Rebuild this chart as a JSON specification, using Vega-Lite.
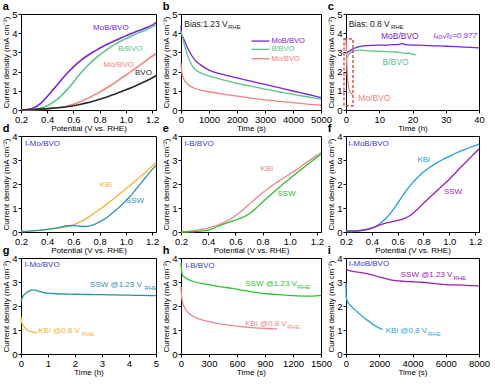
{
"$schema": "https://vega.github.io/schema/vega-lite/v6.json",
"padding": {"left": 2, "top": 0, "right": 2, "bottom": 2},
"bounds": "flush",
"align": "each",
"columns": 3,
"spacing": {"row": 26, "column": 25},
"resolve": {"scale": {"color": "independent", "x": "independent", "y": "independent"}},
"config": {
  "font": "Liberation Sans",
  "view": {"stroke": "black", "strokeWidth": 1},
  "axis": {"grid": false, "domainColor": "black", "tickColor": "black", "labelColor": "black", "titleColor": "black", "labelFont": "Liberation Sans", "titleFont": "Liberation Sans", "labelFontSize": 9.5, "titleFontSize": 8, "titleFontWeight": "normal", "tickSize": 3, "labelPadding": 1, "titlePadding": 1, "labelFlush": false, "labelOverlap": false, "labelBound": false},
  "title": {"anchor": "start", "frame": "bounds", "fontSize": 11, "fontWeight": "bold", "font": "Liberation Sans", "offset": -3, "color": "black"},
  "text": {"font": "Liberation Sans"},
  "line": {"strokeWidth": 1.3, "interpolate": "monotone"}
},
"datasets": {
  "a_l": [
    {"s":"MoB/BVO","x":0.2,"y":0},{"s":"MoB/BVO","x":0.25,"y":0.02},{"s":"MoB/BVO","x":0.3,"y":0.12},{"s":"MoB/BVO","x":0.35,"y":0.35},{"s":"MoB/BVO","x":0.4,"y":0.7},{"s":"MoB/BVO","x":0.45,"y":1.1},{"s":"MoB/BVO","x":0.5,"y":1.5},{"s":"MoB/BVO","x":0.55,"y":1.9},{"s":"MoB/BVO","x":0.6,"y":2.25},{"s":"MoB/BVO","x":0.65,"y":2.55},{"s":"MoB/BVO","x":0.7,"y":2.8},{"s":"MoB/BVO","x":0.75,"y":3.02},{"s":"MoB/BVO","x":0.8,"y":3.22},{"s":"MoB/BVO","x":0.85,"y":3.4},{"s":"MoB/BVO","x":0.9,"y":3.56},{"s":"MoB/BVO","x":0.95,"y":3.71},{"s":"MoB/BVO","x":1.0,"y":3.86},{"s":"MoB/BVO","x":1.05,"y":4.0},{"s":"MoB/BVO","x":1.1,"y":4.14},{"s":"MoB/BVO","x":1.15,"y":4.27},{"s":"MoB/BVO","x":1.2,"y":4.42},{"s":"MoB/BVO","x":1.23,"y":4.55},
    {"s":"B/BVO","x":0.2,"y":0},{"s":"B/BVO","x":0.25,"y":0.01},{"s":"B/BVO","x":0.3,"y":0.03},{"s":"B/BVO","x":0.35,"y":0.1},{"s":"B/BVO","x":0.4,"y":0.22},{"s":"B/BVO","x":0.45,"y":0.42},{"s":"B/BVO","x":0.5,"y":0.7},{"s":"B/BVO","x":0.55,"y":1.05},{"s":"B/BVO","x":0.6,"y":1.45},{"s":"B/BVO","x":0.65,"y":1.88},{"s":"B/BVO","x":0.7,"y":2.25},{"s":"B/BVO","x":0.75,"y":2.58},{"s":"B/BVO","x":0.8,"y":2.87},{"s":"B/BVO","x":0.85,"y":3.12},{"s":"B/BVO","x":0.9,"y":3.35},{"s":"B/BVO","x":0.95,"y":3.55},{"s":"B/BVO","x":1.0,"y":3.72},{"s":"B/BVO","x":1.05,"y":3.88},{"s":"B/BVO","x":1.1,"y":4.03},{"s":"B/BVO","x":1.15,"y":4.17},{"s":"B/BVO","x":1.2,"y":4.33},{"s":"B/BVO","x":1.23,"y":4.42},
    {"s":"Mo/BVO","x":0.2,"y":0},{"s":"Mo/BVO","x":0.3,"y":0.02},{"s":"Mo/BVO","x":0.4,"y":0.06},{"s":"Mo/BVO","x":0.5,"y":0.13},{"s":"Mo/BVO","x":0.55,"y":0.2},{"s":"Mo/BVO","x":0.6,"y":0.3},{"s":"Mo/BVO","x":0.65,"y":0.43},{"s":"Mo/BVO","x":0.7,"y":0.58},{"s":"Mo/BVO","x":0.75,"y":0.75},{"s":"Mo/BVO","x":0.8,"y":0.93},{"s":"Mo/BVO","x":0.85,"y":1.13},{"s":"Mo/BVO","x":0.9,"y":1.35},{"s":"Mo/BVO","x":0.95,"y":1.58},{"s":"Mo/BVO","x":1.0,"y":1.82},{"s":"Mo/BVO","x":1.05,"y":2.05},{"s":"Mo/BVO","x":1.1,"y":2.3},{"s":"Mo/BVO","x":1.15,"y":2.55},{"s":"Mo/BVO","x":1.2,"y":2.8},{"s":"Mo/BVO","x":1.23,"y":2.93},
    {"s":"BVO","x":0.2,"y":0},{"s":"BVO","x":0.3,"y":0.03},{"s":"BVO","x":0.4,"y":0.07},{"s":"BVO","x":0.5,"y":0.13},{"s":"BVO","x":0.6,"y":0.22},{"s":"BVO","x":0.65,"y":0.29},{"s":"BVO","x":0.7,"y":0.37},{"s":"BVO","x":0.75,"y":0.46},{"s":"BVO","x":0.8,"y":0.56},{"s":"BVO","x":0.85,"y":0.67},{"s":"BVO","x":0.9,"y":0.79},{"s":"BVO","x":0.95,"y":0.92},{"s":"BVO","x":1.0,"y":1.05},{"s":"BVO","x":1.05,"y":1.19},{"s":"BVO","x":1.1,"y":1.34},{"s":"BVO","x":1.15,"y":1.5},{"s":"BVO","x":1.2,"y":1.67},{"s":"BVO","x":1.23,"y":1.78}
  ],
  "a_t": [
    {"s":"MoB/BVO","t":"MoB/BVO","x":0.75,"y":4.28,"r":"m"},{"s":"B/BVO","t":"B/BVO","x":0.94,"y":3.19,"r":"m"},{"s":"Mo/BVO","t":"Mo/BVO","x":0.83,"y":2.33,"r":"m"},{"s":"BVO","t":"BVO","x":1.07,"y":1.93,"r":"m"}
  ],
  "b_l": [
    {"s":"MoB/BVO","x":0,"y":4.4},{"s":"MoB/BVO","x":10,"y":4.0},{"s":"MoB/BVO","x":50,"y":3.85},{"s":"MoB/BVO","x":100,"y":3.7},{"s":"MoB/BVO","x":200,"y":3.35},{"s":"MoB/BVO","x":300,"y":3.05},{"s":"MoB/BVO","x":400,"y":2.8},{"s":"MoB/BVO","x":500,"y":2.6},{"s":"MoB/BVO","x":700,"y":2.35},{"s":"MoB/BVO","x":1000,"y":2.08},{"s":"MoB/BVO","x":1500,"y":1.85},{"s":"MoB/BVO","x":2000,"y":1.67},{"s":"MoB/BVO","x":2500,"y":1.5},{"s":"MoB/BVO","x":3000,"y":1.33},{"s":"MoB/BVO","x":3500,"y":1.16},{"s":"MoB/BVO","x":4000,"y":0.99},{"s":"MoB/BVO","x":4500,"y":0.82},{"s":"MoB/BVO","x":5000,"y":0.65},
    {"s":"B/BVO","x":0,"y":4.1},{"s":"B/BVO","x":50,"y":3.8},{"s":"B/BVO","x":100,"y":3.5},{"s":"B/BVO","x":200,"y":3.0},{"s":"B/BVO","x":300,"y":2.6},{"s":"B/BVO","x":400,"y":2.3},{"s":"B/BVO","x":500,"y":2.12},{"s":"B/BVO","x":700,"y":1.93},{"s":"B/BVO","x":1000,"y":1.78},{"s":"B/BVO","x":1500,"y":1.57},{"s":"B/BVO","x":2000,"y":1.39},{"s":"B/BVO","x":2500,"y":1.24},{"s":"B/BVO","x":3000,"y":1.09},{"s":"B/BVO","x":3500,"y":0.95},{"s":"B/BVO","x":4000,"y":0.81},{"s":"B/BVO","x":4500,"y":0.69},{"s":"B/BVO","x":5000,"y":0.57},
    {"s":"Mo/BVO","x":0,"y":2.45},{"s":"Mo/BVO","x":20,"y":2.05},{"s":"Mo/BVO","x":50,"y":1.8},{"s":"Mo/BVO","x":100,"y":1.6},{"s":"Mo/BVO","x":200,"y":1.4},{"s":"Mo/BVO","x":300,"y":1.27},{"s":"Mo/BVO","x":500,"y":1.12},{"s":"Mo/BVO","x":700,"y":1.03},{"s":"Mo/BVO","x":1000,"y":0.95},{"s":"Mo/BVO","x":1500,"y":0.83},{"s":"Mo/BVO","x":2000,"y":0.72},{"s":"Mo/BVO","x":2500,"y":0.62},{"s":"Mo/BVO","x":3000,"y":0.53},{"s":"Mo/BVO","x":3500,"y":0.45},{"s":"Mo/BVO","x":4000,"y":0.38},{"s":"Mo/BVO","x":4500,"y":0.31},{"s":"Mo/BVO","x":5000,"y":0.26}
  ],
  "b_g": [
    {"s":"MoB/BVO","x":2520,"y":3.59},{"s":"MoB/BVO","x":3160,"y":3.59},{"s":"B/BVO","x":2520,"y":3.16},{"s":"B/BVO","x":3160,"y":3.16},{"s":"Mo/BVO","x":2520,"y":2.67},{"s":"Mo/BVO","x":3160,"y":2.67}
  ],
  "b_t": [
    {"s":"note","t":"Bias:1.23 V","x":117,"y":4.48,"r":"m"},{"s":"note","t":"RHE","x":1680,"y":4.48,"r":"sub"},
    {"s":"MoB/BVO","t":"MoB/BVO","x":3230,"y":3.59,"r":"g"},{"s":"B/BVO","t":"B/BVO","x":3230,"y":3.16,"r":"g"},{"s":"Mo/BVO","t":"Mo/BVO","x":3230,"y":2.67,"r":"g"}
  ],
  "c_l": [
    {"s":"MoB/BVO","x":0,"y":2.9},{"s":"MoB/BVO","x":0.5,"y":3.0},{"s":"MoB/BVO","x":1,"y":3.07},{"s":"MoB/BVO","x":2,"y":3.17},{"s":"MoB/BVO","x":3,"y":3.25},{"s":"MoB/BVO","x":4,"y":3.3},{"s":"MoB/BVO","x":6,"y":3.35},{"s":"MoB/BVO","x":8,"y":3.37},{"s":"MoB/BVO","x":10,"y":3.38},{"s":"MoB/BVO","x":12,"y":3.38},{"s":"MoB/BVO","x":14,"y":3.4},{"s":"MoB/BVO","x":16,"y":3.42},{"s":"MoB/BVO","x":17,"y":3.46},{"s":"MoB/BVO","x":18,"y":3.4},{"s":"MoB/BVO","x":20,"y":3.38},{"s":"MoB/BVO","x":22,"y":3.38},{"s":"MoB/BVO","x":25,"y":3.35},{"s":"MoB/BVO","x":28,"y":3.34},{"s":"MoB/BVO","x":30,"y":3.32},{"s":"MoB/BVO","x":33,"y":3.3},{"s":"MoB/BVO","x":36,"y":3.27},{"s":"MoB/BVO","x":40,"y":3.24},
    {"s":"B/BVO","x":0,"y":2.6},{"s":"B/BVO","x":0.5,"y":2.8},{"s":"B/BVO","x":1,"y":2.93},{"s":"B/BVO","x":2,"y":3.05},{"s":"B/BVO","x":3,"y":3.1},{"s":"B/BVO","x":4,"y":3.12},{"s":"B/BVO","x":5,"y":3.11},{"s":"B/BVO","x":7,"y":3.08},{"s":"B/BVO","x":9,"y":3.06},{"s":"B/BVO","x":11,"y":3.05},{"s":"B/BVO","x":13,"y":3.03},{"s":"B/BVO","x":15,"y":3.02},{"s":"B/BVO","x":17,"y":2.97},{"s":"B/BVO","x":18,"y":2.95},{"s":"B/BVO","x":19,"y":2.96},{"s":"B/BVO","x":20,"y":2.9},{"s":"B/BVO","x":21,"y":2.87},
    {"s":"Mo/BVO","x":0,"y":3.7},{"s":"Mo/BVO","x":0.1,"y":3.2},{"s":"Mo/BVO","x":0.2,"y":2.6},{"s":"Mo/BVO","x":0.35,"y":2.0},{"s":"Mo/BVO","x":0.5,"y":1.6},{"s":"Mo/BVO","x":0.75,"y":1.25},{"s":"Mo/BVO","x":1,"y":1.05},{"s":"Mo/BVO","x":1.3,"y":0.92},{"s":"Mo/BVO","x":1.6,"y":0.85},{"s":"Mo/BVO","x":2,"y":0.8}
  ],
  "c_box": [{"x":-0.6,"x2":2.1,"y":0.22,"y2":3.7}],
  "c_t": [
    {"s":"note","t":"Bias: 0.8 V","x":0.8,"y":4.48,"r":"m"},{"s":"note","t":"RHE","x":13.5,"y":4.48,"r":"sub"},
    {"s":"MoB/BVO","t":"MoB/BVO","x":10.5,"y":3.88,"r":"m"},{"s":"B/BVO","t":"B/BVO","x":11.0,"y":2.5,"r":"m"},{"s":"Mo/BVO","t":"Mo/BVO","x":3.7,"y":0.6,"r":"m"},
    {"s":"MoB/BVO","t":"i₄₀ₕ/i₀=0.977","x":26.3,"y":3.88,"r":"it"}
  ],
  "d_l": [
    {"s":"KBi","x":0.2,"y":0.02},{"s":"KBi","x":0.25,"y":0.03},{"s":"KBi","x":0.3,"y":0.05},{"s":"KBi","x":0.35,"y":0.07},{"s":"KBi","x":0.4,"y":0.1},{"s":"KBi","x":0.45,"y":0.13},{"s":"KBi","x":0.5,"y":0.17},{"s":"KBi","x":0.55,"y":0.22},{"s":"KBi","x":0.6,"y":0.3},{"s":"KBi","x":0.65,"y":0.42},{"s":"KBi","x":0.7,"y":0.57},{"s":"KBi","x":0.75,"y":0.75},{"s":"KBi","x":0.8,"y":0.94},{"s":"KBi","x":0.85,"y":1.14},{"s":"KBi","x":0.9,"y":1.35},{"s":"KBi","x":0.95,"y":1.57},{"s":"KBi","x":1.0,"y":1.8},{"s":"KBi","x":1.05,"y":2.02},{"s":"KBi","x":1.1,"y":2.25},{"s":"KBi","x":1.15,"y":2.48},{"s":"KBi","x":1.2,"y":2.75},{"s":"KBi","x":1.23,"y":2.9},
    {"s":"SSW","x":0.2,"y":0.02},{"s":"SSW","x":0.25,"y":0.03},{"s":"SSW","x":0.3,"y":0.06},{"s":"SSW","x":0.35,"y":0.08},{"s":"SSW","x":0.4,"y":0.11},{"s":"SSW","x":0.45,"y":0.15},{"s":"SSW","x":0.5,"y":0.2},{"s":"SSW","x":0.55,"y":0.26},{"s":"SSW","x":0.6,"y":0.27},{"s":"SSW","x":0.65,"y":0.24},{"s":"SSW","x":0.7,"y":0.23},{"s":"SSW","x":0.75,"y":0.3},{"s":"SSW","x":0.8,"y":0.42},{"s":"SSW","x":0.85,"y":0.58},{"s":"SSW","x":0.9,"y":0.8},{"s":"SSW","x":0.95,"y":1.03},{"s":"SSW","x":1.0,"y":1.3},{"s":"SSW","x":1.05,"y":1.6},{"s":"SSW","x":1.1,"y":1.93},{"s":"SSW","x":1.15,"y":2.27},{"s":"SSW","x":1.2,"y":2.6},{"s":"SSW","x":1.23,"y":2.78}
  ],
  "d_t": [
    {"s":"title","t":"I-Mo/BVO","x":0.23,"y":3.68,"r":"m"},{"s":"KBi","t":"KBi","x":0.8,"y":1.94,"r":"m"},{"s":"SSW","t":"SSW","x":1.0,"y":1.29,"r":"m"}
  ],
  "e_l": [
    {"s":"KBi","x":0.2,"y":0},{"s":"KBi","x":0.25,"y":0.02},{"s":"KBi","x":0.3,"y":0.06},{"s":"KBi","x":0.35,"y":0.11},{"s":"KBi","x":0.4,"y":0.17},{"s":"KBi","x":0.45,"y":0.25},{"s":"KBi","x":0.5,"y":0.36},{"s":"KBi","x":0.55,"y":0.5},{"s":"KBi","x":0.6,"y":0.68},{"s":"KBi","x":0.65,"y":0.9},{"s":"KBi","x":0.7,"y":1.15},{"s":"KBi","x":0.75,"y":1.4},{"s":"KBi","x":0.8,"y":1.64},{"s":"KBi","x":0.85,"y":1.85},{"s":"KBi","x":0.9,"y":2.05},{"s":"KBi","x":0.95,"y":2.23},{"s":"KBi","x":1.0,"y":2.42},{"s":"KBi","x":1.05,"y":2.6},{"s":"KBi","x":1.1,"y":2.8},{"s":"KBi","x":1.15,"y":3.0},{"s":"KBi","x":1.2,"y":3.2},{"s":"KBi","x":1.23,"y":3.3},
    {"s":"SSW","x":0.2,"y":0},{"s":"SSW","x":0.3,"y":0.02},{"s":"SSW","x":0.35,"y":0.04},{"s":"SSW","x":0.4,"y":0.08},{"s":"SSW","x":0.45,"y":0.18},{"s":"SSW","x":0.5,"y":0.3},{"s":"SSW","x":0.55,"y":0.4},{"s":"SSW","x":0.6,"y":0.5},{"s":"SSW","x":0.65,"y":0.6},{"s":"SSW","x":0.7,"y":0.75},{"s":"SSW","x":0.75,"y":0.98},{"s":"SSW","x":0.8,"y":1.25},{"s":"SSW","x":0.85,"y":1.5},{"s":"SSW","x":0.9,"y":1.75},{"s":"SSW","x":0.95,"y":2.0},{"s":"SSW","x":1.0,"y":2.22},{"s":"SSW","x":1.05,"y":2.45},{"s":"SSW","x":1.1,"y":2.68},{"s":"SSW","x":1.15,"y":2.9},{"s":"SSW","x":1.2,"y":3.12},{"s":"SSW","x":1.23,"y":3.25}
  ],
  "e_t": [
    {"s":"title","t":"I-B/BVO","x":0.225,"y":3.68,"r":"m"},{"s":"KBi","t":"KBi","x":0.785,"y":2.64,"r":"m"},{"s":"SSW","t":"SSW","x":0.91,"y":1.6,"r":"m"}
  ],
  "f_l": [
    {"s":"KBi","x":0.2,"y":0.02},{"s":"KBi","x":0.25,"y":0.02},{"s":"KBi","x":0.3,"y":0.04},{"s":"KBi","x":0.35,"y":0.08},{"s":"KBi","x":0.4,"y":0.15},{"s":"KBi","x":0.45,"y":0.3},{"s":"KBi","x":0.5,"y":0.52},{"s":"KBi","x":0.55,"y":0.82},{"s":"KBi","x":0.6,"y":1.2},{"s":"KBi","x":0.65,"y":1.6},{"s":"KBi","x":0.7,"y":1.95},{"s":"KBi","x":0.75,"y":2.25},{"s":"KBi","x":0.8,"y":2.5},{"s":"KBi","x":0.85,"y":2.7},{"s":"KBi","x":0.9,"y":2.87},{"s":"KBi","x":0.95,"y":3.02},{"s":"KBi","x":1.0,"y":3.15},{"s":"KBi","x":1.05,"y":3.28},{"s":"KBi","x":1.1,"y":3.4},{"s":"KBi","x":1.15,"y":3.5},{"s":"KBi","x":1.2,"y":3.6},{"s":"KBi","x":1.23,"y":3.66},
    {"s":"SSW","x":0.2,"y":0.05},{"s":"SSW","x":0.25,"y":0.05},{"s":"SSW","x":0.3,"y":0.06},{"s":"SSW","x":0.35,"y":0.1},{"s":"SSW","x":0.4,"y":0.17},{"s":"SSW","x":0.45,"y":0.27},{"s":"SSW","x":0.5,"y":0.36},{"s":"SSW","x":0.55,"y":0.42},{"s":"SSW","x":0.6,"y":0.48},{"s":"SSW","x":0.65,"y":0.56},{"s":"SSW","x":0.7,"y":0.7},{"s":"SSW","x":0.75,"y":0.93},{"s":"SSW","x":0.8,"y":1.2},{"s":"SSW","x":0.85,"y":1.45},{"s":"SSW","x":0.9,"y":1.7},{"s":"SSW","x":0.95,"y":1.95},{"s":"SSW","x":1.0,"y":2.2},{"s":"SSW","x":1.05,"y":2.48},{"s":"SSW","x":1.1,"y":2.76},{"s":"SSW","x":1.15,"y":3.03},{"s":"SSW","x":1.2,"y":3.3},{"s":"SSW","x":1.23,"y":3.46}
  ],
  "f_t": [
    {"s":"title","t":"I-MoB/BVO","x":0.218,"y":3.65,"r":"m"},{"s":"KBi","t":"KBi","x":0.753,"y":2.99,"r":"m"},{"s":"SSW","t":"SSW","x":0.958,"y":1.67,"r":"m"}
  ],
  "g_l": [
    {"s":"SSW","x":0,"y":2.2},{"s":"SSW","x":0.05,"y":2.35},{"s":"SSW","x":0.1,"y":2.45},{"s":"SSW","x":0.2,"y":2.55},{"s":"SSW","x":0.3,"y":2.62},{"s":"SSW","x":0.4,"y":2.66},{"s":"SSW","x":0.5,"y":2.67},{"s":"SSW","x":0.6,"y":2.64},{"s":"SSW","x":0.7,"y":2.6},{"s":"SSW","x":0.8,"y":2.57},{"s":"SSW","x":1.0,"y":2.53},{"s":"SSW","x":1.2,"y":2.52},{"s":"SSW","x":1.5,"y":2.5},{"s":"SSW","x":2.0,"y":2.49},{"s":"SSW","x":2.5,"y":2.48},{"s":"SSW","x":3.0,"y":2.47},{"s":"SSW","x":3.5,"y":2.46},{"s":"SSW","x":4.0,"y":2.45},{"s":"SSW","x":4.5,"y":2.44},{"s":"SSW","x":5.0,"y":2.43},
    {"s":"KBi","x":0,"y":1.55},{"s":"KBi","x":0.02,"y":1.35},{"s":"KBi","x":0.05,"y":1.25},{"s":"KBi","x":0.1,"y":1.15},{"s":"KBi","x":0.15,"y":1.08},{"s":"KBi","x":0.2,"y":1.03},{"s":"KBi","x":0.3,"y":0.97},{"s":"KBi","x":0.4,"y":0.93},{"s":"KBi","x":0.5,"y":0.9},{"s":"KBi","x":0.6,"y":0.88}
  ],
  "g_t": [
    {"s":"title","t":"I-Mo/BVO","x":0.13,"y":3.72,"r":"m"},
    {"s":"SSW","t":"SSW @1.23 V","x":2.56,"y":2.86,"r":"m"},{"s":"SSW","t":"RHE","x":4.57,"y":2.86,"r":"sub"},
    {"s":"KBi","t":"KBi @0.8 V","x":0.64,"y":0.95,"r":"m"},{"s":"KBi","t":"RHE","x":2.25,"y":0.95,"r":"sub"}
  ],
  "h_l": [
    {"s":"SSW","x":0,"y":3.8},{"s":"SSW","x":5,"y":3.5},{"s":"SSW","x":15,"y":3.3},{"s":"SSW","x":40,"y":3.2},{"s":"SSW","x":80,"y":3.1},{"s":"SSW","x":150,"y":3.0},{"s":"SSW","x":250,"y":2.92},{"s":"SSW","x":350,"y":2.85},{"s":"SSW","x":450,"y":2.79},{"s":"SSW","x":550,"y":2.73},{"s":"SSW","x":650,"y":2.66},{"s":"SSW","x":750,"y":2.6},{"s":"SSW","x":850,"y":2.54},{"s":"SSW","x":950,"y":2.5},{"s":"SSW","x":1050,"y":2.47},{"s":"SSW","x":1150,"y":2.44},{"s":"SSW","x":1250,"y":2.42},{"s":"SSW","x":1350,"y":2.41},{"s":"SSW","x":1450,"y":2.42},{"s":"SSW","x":1500,"y":2.44},
    {"s":"KBi","x":0,"y":2.8},{"s":"KBi","x":5,"y":2.45},{"s":"KBi","x":15,"y":2.2},{"s":"KBi","x":30,"y":2.0},{"s":"KBi","x":60,"y":1.8},{"s":"KBi","x":100,"y":1.65},{"s":"KBi","x":150,"y":1.53},{"s":"KBi","x":200,"y":1.45},{"s":"KBi","x":300,"y":1.35},{"s":"KBi","x":400,"y":1.27},{"s":"KBi","x":500,"y":1.21},{"s":"KBi","x":600,"y":1.16},{"s":"KBi","x":700,"y":1.12},{"s":"KBi","x":800,"y":1.09},{"s":"KBi","x":900,"y":1.07},{"s":"KBi","x":1000,"y":1.05},{"s":"KBi","x":1030,"y":1.05}
  ],
  "h_t": [
    {"s":"title","t":"I-B/BVO","x":46,"y":3.68,"r":"m"},
    {"s":"SSW","t":"SSW @1.23 V","x":688,"y":2.92,"r":"m"},{"s":"SSW","t":"RHE","x":1248,"y":2.92,"r":"sub"},
    {"s":"KBi","t":"KBi @0.8 V","x":688,"y":1.25,"r":"m"},{"s":"KBi","t":"RHE","x":1138,"y":1.25,"r":"sub"}
  ],
  "i_l": [
    {"s":"SSW","x":0,"y":3.55},{"s":"SSW","x":100,"y":3.5},{"s":"SSW","x":300,"y":3.46},{"s":"SSW","x":600,"y":3.42},{"s":"SSW","x":1000,"y":3.38},{"s":"SSW","x":1400,"y":3.33},{"s":"SSW","x":1800,"y":3.25},{"s":"SSW","x":2200,"y":3.17},{"s":"SSW","x":2600,"y":3.1},{"s":"SSW","x":3000,"y":3.06},{"s":"SSW","x":3500,"y":3.03},{"s":"SSW","x":4000,"y":3.01},{"s":"SSW","x":4500,"y":2.99},{"s":"SSW","x":5000,"y":2.96},{"s":"SSW","x":5500,"y":2.92},{"s":"SSW","x":6000,"y":2.89},{"s":"SSW","x":6500,"y":2.88},{"s":"SSW","x":7000,"y":2.87},{"s":"SSW","x":7500,"y":2.85},{"s":"SSW","x":8000,"y":2.84},
    {"s":"KBi","x":0,"y":2.95},{"s":"KBi","x":10,"y":2.4},{"s":"KBi","x":50,"y":2.25},{"s":"KBi","x":150,"y":2.12},{"s":"KBi","x":300,"y":2.0},{"s":"KBi","x":500,"y":1.86},{"s":"KBi","x":700,"y":1.74},{"s":"KBi","x":900,"y":1.62},{"s":"KBi","x":1100,"y":1.5},{"s":"KBi","x":1300,"y":1.4},{"s":"KBi","x":1500,"y":1.3},{"s":"KBi","x":1700,"y":1.2},{"s":"KBi","x":1900,"y":1.12},{"s":"KBi","x":2100,"y":1.05},{"s":"KBi","x":2200,"y":1.02}
  ],
  "i_t": [
    {"s":"title","t":"I-MoB/BVO","x":160,"y":3.75,"r":"m"},
    {"s":"SSW","t":"SSW @1.23 V","x":3293,"y":3.29,"r":"m"},{"s":"SSW","t":"RHE","x":6460,"y":3.29,"r":"sub"},
    {"s":"KBi","t":"KBi @0.8 V","x":2384,"y":0.97,"r":"m"},{"s":"KBi","t":"RHE","x":4934,"y":0.97,"r":"sub"}
  ]
},
"concat": [
    {"width": 135, "height": 96, "title": {"text": "a"},
     "layer": [
      {"data": {"name": "a_l"}, "mark": {"type": "line", "strokeWidth": 1.6},
       "encoding": {
        "x": {"field": "x", "type": "quantitative", "scale": {"domain": [0.2, 1.23], "nice": false}, "axis": {"values": [0.2,0.4,0.6,0.8,1.0,1.2], "tickCount": 12, "format": ".1f", "title": "Potential (V vs. RHE)"}},
        "y": {"field": "y", "type": "quantitative", "scale": {"domain": [0, 5], "nice": false}, "axis": {"values": [0,1,2,3,4,5], "tickCount": 12, "format": "d", "title": "Current density (mA cm⁻²)"}},
        "color": {"field": "s", "type": "nominal", "scale": {"domain": ["MoB/BVO","B/BVO","Mo/BVO","BVO","note"], "range": ["#7B22E8","#5DC48A","#F0837B","#2B2B2B","#222222"]}, "legend": null}}},
      {"data": {"name": "a_t"}, "mark": {"type": "text", "align": "left", "baseline": "middle", "fontSize": 8},
       "encoding": {"x": {"field": "x", "type": "quantitative"}, "y": {"field": "y", "type": "quantitative"}, "text": {"field": "t"},
        "color": {"field": "s", "type": "nominal", "scale": {"domain": ["MoB/BVO","B/BVO","Mo/BVO","BVO","note"], "range": ["#7B22E8","#5DC48A","#F0837B","#2B2B2B","#222222"]}, "legend": null}}}
     ]},
      {"width": 140, "height": 96, "title": {"text": "b"},
       "layer": [
        {"data": {"name": "b_l"}, "mark": {"type": "line"},
         "encoding": {
          "x": {"field": "x", "type": "quantitative", "scale": {"domain": [0, 5000], "nice": false}, "axis": {"values": [0,1000,2000,3000,4000,5000], "tickCount": 12, "format": "d", "title": "Time (s)"}},
          "y": {"field": "y", "type": "quantitative", "scale": {"domain": [0, 5], "nice": false}, "axis": {"values": [0,1,2,3,4,5], "tickCount": 12, "format": "d", "title": "Current density (mA cm⁻²)"}},
          "color": {"field": "s", "type": "nominal", "scale": {"domain": ["MoB/BVO","B/BVO","Mo/BVO","BVO","note"], "range": ["#7B22E8","#5DC48A","#F0837B","#2B2B2B","#222222"]}, "legend": null}}},
        {"data": {"name": "b_g"}, "mark": {"type": "line", "interpolate": "linear"},
         "encoding": {"x": {"field": "x", "type": "quantitative"}, "y": {"field": "y", "type": "quantitative"},
          "color": {"field": "s", "type": "nominal", "scale": {"domain": ["MoB/BVO","B/BVO","Mo/BVO","BVO","note"], "range": ["#7B22E8","#5DC48A","#F0837B","#2B2B2B","#222222"]}, "legend": null}}},
        {"data": {"name": "b_t"}, "transform": [{"filter": "datum.r == 'm'"}], "mark": {"type": "text", "align": "left", "baseline": "middle", "fontSize": 8.5},
         "encoding": {"x": {"field": "x", "type": "quantitative"}, "y": {"field": "y", "type": "quantitative"}, "text": {"field": "t"},
          "color": {"field": "s", "type": "nominal", "scale": {"domain": ["MoB/BVO","B/BVO","Mo/BVO","BVO","note"], "range": ["#7B22E8","#5DC48A","#F0837B","#2B2B2B","#222222"]}, "legend": null}}},
        {"data": {"name": "b_t"}, "transform": [{"filter": "datum.r == 'g'"}], "mark": {"type": "text", "align": "left", "baseline": "middle", "fontSize": 7.5},
         "encoding": {"x": {"field": "x", "type": "quantitative"}, "y": {"field": "y", "type": "quantitative"}, "text": {"field": "t"},
          "color": {"field": "s", "type": "nominal", "scale": {"domain": ["MoB/BVO","B/BVO","Mo/BVO","BVO","note"], "range": ["#7B22E8","#5DC48A","#F0837B","#2B2B2B","#222222"]}, "legend": null}}},
        {"data": {"name": "b_t"}, "transform": [{"filter": "datum.r == 'sub'"}], "mark": {"type": "text", "align": "left", "baseline": "middle", "fontSize": 6, "dy": 3},
         "encoding": {"x": {"field": "x", "type": "quantitative"}, "y": {"field": "y", "type": "quantitative"}, "text": {"field": "t"},
          "color": {"field": "s", "type": "nominal", "scale": {"domain": ["MoB/BVO","B/BVO","Mo/BVO","BVO","note"], "range": ["#7B22E8","#5DC48A","#F0837B","#2B2B2B","#222222"]}, "legend": null}}}
       ]},
      {"width": 133, "height": 96, "title": {"text": "c"},
       "layer": [
        {"data": {"name": "c_l"}, "mark": {"type": "line"},
         "encoding": {
          "x": {"field": "x", "type": "quantitative", "scale": {"domain": [0, 40], "nice": false}, "axis": {"values": [0,10,20,30,40], "tickCount": 12, "format": "d", "title": "Time (h)"}},
          "y": {"field": "y", "type": "quantitative", "scale": {"domain": [0, 5], "nice": false}, "axis": {"values": [0,1,2,3,4,5], "tickCount": 12, "format": "d", "title": "Current density (mA cm⁻²)"}},
          "color": {"field": "s", "type": "nominal", "scale": {"domain": ["MoB/BVO","B/BVO","Mo/BVO","BVO","note"], "range": ["#7B22E8","#5DC48A","#F0837B","#2B2B2B","#222222"]}, "legend": null}}},
        {"data": {"name": "c_box"}, "mark": {"type": "rect", "fillOpacity": 0, "stroke": "#D42A2A", "strokeWidth": 1.2, "strokeDash": [3, 2]},
         "encoding": {"x": {"field": "x", "type": "quantitative"}, "x2": {"field": "x2"}, "y": {"field": "y", "type": "quantitative"}, "y2": {"field": "y2"}}},
        {"data": {"name": "c_t"}, "transform": [{"filter": "datum.r == 'm'"}], "mark": {"type": "text", "align": "left", "baseline": "middle", "fontSize": 8.5},
         "encoding": {"x": {"field": "x", "type": "quantitative"}, "y": {"field": "y", "type": "quantitative"}, "text": {"field": "t"},
          "color": {"field": "s", "type": "nominal", "scale": {"domain": ["MoB/BVO","B/BVO","Mo/BVO","BVO","note"], "range": ["#7B22E8","#5DC48A","#F0837B","#2B2B2B","#222222"]}, "legend": null}}},
        {"data": {"name": "c_t"}, "transform": [{"filter": "datum.r == 'sub'"}], "mark": {"type": "text", "align": "left", "baseline": "middle", "fontSize": 6, "dy": 3},
         "encoding": {"x": {"field": "x", "type": "quantitative"}, "y": {"field": "y", "type": "quantitative"}, "text": {"field": "t"},
          "color": {"field": "s", "type": "nominal", "scale": {"domain": ["MoB/BVO","B/BVO","Mo/BVO","BVO","note"], "range": ["#7B22E8","#5DC48A","#F0837B","#2B2B2B","#222222"]}, "legend": null}}},
        {"data": {"name": "c_t"}, "transform": [{"filter": "datum.r == 'it'"}], "mark": {"type": "text", "align": "left", "baseline": "middle", "fontSize": 8, "fontStyle": "italic"},
         "encoding": {"x": {"field": "x", "type": "quantitative"}, "y": {"field": "y", "type": "quantitative"}, "text": {"field": "t"},
          "color": {"field": "s", "type": "nominal", "scale": {"domain": ["MoB/BVO","B/BVO","Mo/BVO","BVO","note"], "range": ["#7B22E8","#5DC48A","#F0837B","#2B2B2B","#222222"]}, "legend": null}}}
       ]},
    {"width": 135, "height": 96, "title": {"text": "d"},
     "layer": [
      {"data": {"name": "d_l"}, "mark": {"type": "line"},
       "encoding": {
        "x": {"field": "x", "type": "quantitative", "scale": {"domain": [0.2, 1.23], "nice": false}, "axis": {"values": [0.2,0.4,0.6,0.8,1.0,1.2], "tickCount": 12, "format": ".1f", "title": "Potential (V vs. RHE)"}},
        "y": {"field": "y", "type": "quantitative", "scale": {"domain": [0, 4], "nice": false}, "axis": {"values": [0,1,2,3,4], "tickCount": 12, "format": "d", "title": "Current density (mA cm⁻²)"}},
        "color": {"field": "s", "type": "nominal", "scale": {"domain": ["KBi","SSW","note","title"], "range": ["#F2B533","#2E96AE","#222222","#3A3AD0"]}, "legend": null}}},
      {"data": {"name": "d_t"}, "mark": {"type": "text", "align": "left", "baseline": "middle", "fontSize": 8},
       "encoding": {"x": {"field": "x", "type": "quantitative"}, "y": {"field": "y", "type": "quantitative"}, "text": {"field": "t"},
        "color": {"field": "s", "type": "nominal", "scale": {"domain": ["KBi","SSW","note","title"], "range": ["#F2B533","#2E96AE","#222222","#3A3AD0"]}, "legend": null}}}
     ]},
      {"width": 140, "height": 96, "title": {"text": "e"},
       "layer": [
        {"data": {"name": "e_l"}, "mark": {"type": "line"},
         "encoding": {
          "x": {"field": "x", "type": "quantitative", "scale": {"domain": [0.2, 1.23], "nice": false}, "axis": {"values": [0.2,0.4,0.6,0.8,1.0,1.2], "tickCount": 12, "format": ".1f", "title": "Potential (V vs. RHE)"}},
          "y": {"field": "y", "type": "quantitative", "scale": {"domain": [0, 4], "nice": false}, "axis": {"values": [0,1,2,3,4], "tickCount": 12, "format": "d", "title": "Current density (mA cm⁻²)"}},
          "color": {"field": "s", "type": "nominal", "scale": {"domain": ["KBi","SSW","note","title"], "range": ["#F2838A","#2DBE2D","#222222","#3A3AD0"]}, "legend": null}}},
        {"data": {"name": "e_t"}, "mark": {"type": "text", "align": "left", "baseline": "middle", "fontSize": 8},
         "encoding": {"x": {"field": "x", "type": "quantitative"}, "y": {"field": "y", "type": "quantitative"}, "text": {"field": "t"},
          "color": {"field": "s", "type": "nominal", "scale": {"domain": ["KBi","SSW","note","title"], "range": ["#F2838A","#2DBE2D","#222222","#3A3AD0"]}, "legend": null}}}
       ]},
      {"width": 133, "height": 96, "title": {"text": "f"},
       "layer": [
        {"data": {"name": "f_l"}, "mark": {"type": "line"},
         "encoding": {
          "x": {"field": "x", "type": "quantitative", "scale": {"domain": [0.2, 1.23], "nice": false}, "axis": {"values": [0.2,0.4,0.6,0.8,1.0,1.2], "tickCount": 12, "format": ".1f", "title": "Potential (V vs. RHE)"}},
          "y": {"field": "y", "type": "quantitative", "scale": {"domain": [0, 4], "nice": false}, "axis": {"values": [0,1,2,3,4], "tickCount": 12, "format": "d", "title": "Current density (mA cm⁻²)"}},
          "color": {"field": "s", "type": "nominal", "scale": {"domain": ["KBi","SSW","note","title"], "range": ["#22A0E0","#9A1FB2","#222222","#3A3AD0"]}, "legend": null}}},
        {"data": {"name": "f_t"}, "mark": {"type": "text", "align": "left", "baseline": "middle", "fontSize": 8},
         "encoding": {"x": {"field": "x", "type": "quantitative"}, "y": {"field": "y", "type": "quantitative"}, "text": {"field": "t"},
          "color": {"field": "s", "type": "nominal", "scale": {"domain": ["KBi","SSW","note","title"], "range": ["#22A0E0","#9A1FB2","#222222","#3A3AD0"]}, "legend": null}}}
       ]},
    {"width": 135, "height": 96, "title": {"text": "g"},
     "layer": [
      {"data": {"name": "g_l"}, "mark": {"type": "line"},
       "encoding": {
        "x": {"field": "x", "type": "quantitative", "scale": {"domain": [0, 5], "nice": false}, "axis": {"values": [0,1,2,3,4,5], "tickCount": 12, "format": "d", "title": "Time (h)"}},
        "y": {"field": "y", "type": "quantitative", "scale": {"domain": [0, 4], "nice": false}, "axis": {"values": [0,1,2,3,4], "tickCount": 12, "format": "d", "title": "Current density (mA cm⁻²)"}},
        "color": {"field": "s", "type": "nominal", "scale": {"domain": ["KBi","SSW","note","title"], "range": ["#F4B630","#2C8FA8","#222222","#3A3AD0"]}, "legend": null}}},
      {"data": {"name": "g_t"}, "transform": [{"filter": "datum.r == 'm'"}], "mark": {"type": "text", "align": "left", "baseline": "middle", "fontSize": 8},
       "encoding": {"x": {"field": "x", "type": "quantitative"}, "y": {"field": "y", "type": "quantitative"}, "text": {"field": "t"},
        "color": {"field": "s", "type": "nominal", "scale": {"domain": ["KBi","SSW","note","title"], "range": ["#F4B630","#2C8FA8","#222222","#3A3AD0"]}, "legend": null}}},
      {"data": {"name": "g_t"}, "transform": [{"filter": "datum.r == 'sub'"}], "mark": {"type": "text", "align": "left", "baseline": "middle", "fontSize": 6, "dy": 3},
       "encoding": {"x": {"field": "x", "type": "quantitative"}, "y": {"field": "y", "type": "quantitative"}, "text": {"field": "t"},
        "color": {"field": "s", "type": "nominal", "scale": {"domain": ["KBi","SSW","note","title"], "range": ["#F4B630","#2C8FA8","#222222","#3A3AD0"]}, "legend": null}}}
     ]},
      {"width": 140, "height": 96, "title": {"text": "h"},
       "layer": [
        {"data": {"name": "h_l"}, "mark": {"type": "line"},
         "encoding": {
          "x": {"field": "x", "type": "quantitative", "scale": {"domain": [0, 1500], "nice": false}, "axis": {"values": [0,300,600,900,1200,1500], "tickCount": 12, "format": "d", "title": "Time (s)"}},
          "y": {"field": "y", "type": "quantitative", "scale": {"domain": [0, 4], "nice": false}, "axis": {"values": [0,1,2,3,4], "tickCount": 12, "format": "d", "title": "Current density (mA cm⁻²)"}},
          "color": {"field": "s", "type": "nominal", "scale": {"domain": ["KBi","SSW","note","title"], "range": ["#F2848A","#2EC42E","#222222","#3A3AD0"]}, "legend": null}}},
        {"data": {"name": "h_t"}, "transform": [{"filter": "datum.r == 'm'"}], "mark": {"type": "text", "align": "left", "baseline": "middle", "fontSize": 8},
         "encoding": {"x": {"field": "x", "type": "quantitative"}, "y": {"field": "y", "type": "quantitative"}, "text": {"field": "t"},
          "color": {"field": "s", "type": "nominal", "scale": {"domain": ["KBi","SSW","note","title"], "range": ["#F2848A","#2EC42E","#222222","#3A3AD0"]}, "legend": null}}},
        {"data": {"name": "h_t"}, "transform": [{"filter": "datum.r == 'sub'"}], "mark": {"type": "text", "align": "left", "baseline": "middle", "fontSize": 6, "dy": 3},
         "encoding": {"x": {"field": "x", "type": "quantitative"}, "y": {"field": "y", "type": "quantitative"}, "text": {"field": "t"},
          "color": {"field": "s", "type": "nominal", "scale": {"domain": ["KBi","SSW","note","title"], "range": ["#F2848A","#2EC42E","#222222","#3A3AD0"]}, "legend": null}}}
       ]},
      {"width": 133, "height": 96, "title": {"text": "i"},
       "layer": [
        {"data": {"name": "i_l"}, "mark": {"type": "line"},
         "encoding": {
          "x": {"field": "x", "type": "quantitative", "scale": {"domain": [0, 8000], "nice": false}, "axis": {"values": [0,2000,4000,6000,8000], "tickCount": 12, "format": "d", "title": "Time (s)"}},
          "y": {"field": "y", "type": "quantitative", "scale": {"domain": [0, 4], "nice": false}, "axis": {"values": [0,1,2,3,4], "tickCount": 12, "format": "d", "title": "Current density (mA cm⁻²)"}},
          "color": {"field": "s", "type": "nominal", "scale": {"domain": ["KBi","SSW","note","title"], "range": ["#2AA6E0","#9A22B0","#222222","#3A3AD0"]}, "legend": null}}},
        {"data": {"name": "i_t"}, "transform": [{"filter": "datum.r == 'm'"}], "mark": {"type": "text", "align": "left", "baseline": "middle", "fontSize": 8},
         "encoding": {"x": {"field": "x", "type": "quantitative"}, "y": {"field": "y", "type": "quantitative"}, "text": {"field": "t"},
          "color": {"field": "s", "type": "nominal", "scale": {"domain": ["KBi","SSW","note","title"], "range": ["#2AA6E0","#9A22B0","#222222","#3A3AD0"]}, "legend": null}}},
        {"data": {"name": "i_t"}, "transform": [{"filter": "datum.r == 'sub'"}], "mark": {"type": "text", "align": "left", "baseline": "middle", "fontSize": 6, "dy": 3},
         "encoding": {"x": {"field": "x", "type": "quantitative"}, "y": {"field": "y", "type": "quantitative"}, "text": {"field": "t"},
          "color": {"field": "s", "type": "nominal", "scale": {"domain": ["KBi","SSW","note","title"], "range": ["#2AA6E0","#9A22B0","#222222","#3A3AD0"]}, "legend": null}}}
       ]}
]
}
